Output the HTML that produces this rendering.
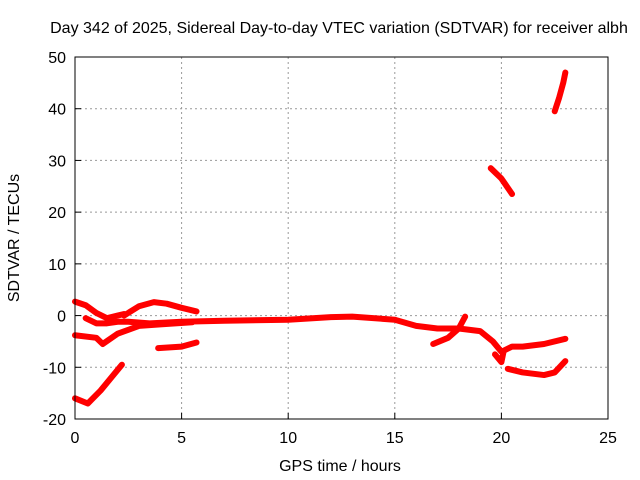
<!DOCTYPE html>
<html><head><meta charset="utf-8"><style>
body{margin:0;background:#fff}
svg{display:block;font-family:"Liberation Sans",sans-serif;font-size:16px}
</style></head><body>
<svg id="c" width="640" height="480">
<text x="339" y="33" text-anchor="middle">Day 342 of 2025, Sidereal Day-to-day VTEC variation (SDTVAR) for receiver albh</text>
<text x="340" y="471" text-anchor="middle">GPS time / hours</text>
<text transform="translate(19,238) rotate(-90)" text-anchor="middle">SDTVAR / TECUs</text>
<g id="grid"></g><g id="ticks"></g><g id="series"></g>
<rect x="75" y="57" width="533" height="362" fill="none" stroke="#000"/>
</svg>
<script>
const xTicks=[0,5,10,15,20,25];
const yTicks=[-20,-10,0,10,20,30,40,50];
const tracks=[
[[0,2.7],[0.5,2],[1,0.5],[1.5,-0.5],[2,0],[2.3,0.3]],
[[2.3,0],[3,1.8],[3.7,2.6],[4.3,2.3],[5,1.5],[5.7,0.8]],
[[0.5,-0.5],[1,-1.5],[1.5,-1.5],[2,-1.2],[2.5,-1.2],[3.5,-1.5],[5,-1.2],[7,-1],[10,-0.8],[12,-0.3],[13,-0.2],[15,-0.8],[16,-2],[17,-2.5],[18,-2.5],[19,-3],[19.6,-5],[20,-7],[20.5,-6],[21,-6],[22,-5.5],[23,-4.5]],
[[0,-3.8],[1,-4.3],[1.3,-5.5],[2,-3.5],[3,-2],[4,-1.7],[5.5,-1.3]],
[[3.9,-6.3],[5,-6],[5.7,-5.2]],
[[0,-16],[0.6,-17],[1.2,-14.5],[2.2,-9.5]],
[[16.8,-5.5],[17.5,-4.3],[18,-2.5],[18.3,-0.2]],
[[19.7,-7.5],[20,-9],[20.1,-7]],
[[20.3,-10.3],[21,-11],[22,-11.5],[22.5,-11],[23,-8.8]],
[[19.5,28.5],[20,26.5],[20.5,23.5]],
[[22.5,39.5],[22.7,42],[22.9,45],[23,47]]
];
const NS='http://www.w3.org/2000/svg';
const X=v=>75+v*533/25, Y=v=>419-(v+20)*362/70;
const g=document.getElementById('grid'),t=document.getElementById('ticks'),s=document.getElementById('series');
function mk(tag,a,p){const e=document.createElementNS(NS,tag);for(const k in a)e.setAttribute(k,a[k]);p.appendChild(e);return e;}
xTicks.forEach(v=>{
 if(v>0&&v<25){const l=mk('line',{x1:X(v),x2:X(v),y1:57,y2:419,stroke:'#999','stroke-dasharray':'2,3'},g);
 
 }
 const k=mk('line',{x1:X(v),x2:X(v),y1:419,y2:413,stroke:'#000'},t);
 
 
 const tx=mk('text',{x:X(v),y:443,'text-anchor':'middle'},t);tx.textContent=v;
 
 
});
yTicks.forEach(v=>{
 if(v>-20&&v<50){const l=mk('line',{x1:75,x2:608,y1:Y(v),y2:Y(v),stroke:'#999','stroke-dasharray':'2,3'},g);
 
 }
 const k=mk('line',{x1:75,x2:81,y1:Y(v),y2:Y(v),stroke:'#000'},t);
 
 
 const tx=mk('text',{x:66,y:Y(v)+6,'text-anchor':'end'},t);tx.textContent=v;
 
 
});
tracks.forEach(tr=>{
 const p=mk('polyline',{points:tr.map(d=>X(d[0])+','+Y(d[1])).join(' '),fill:'none',stroke:'#f00','stroke-width':6,'stroke-linejoin':'round','stroke-linecap':'round'},s);
 
 
});
</script>
</body></html>
